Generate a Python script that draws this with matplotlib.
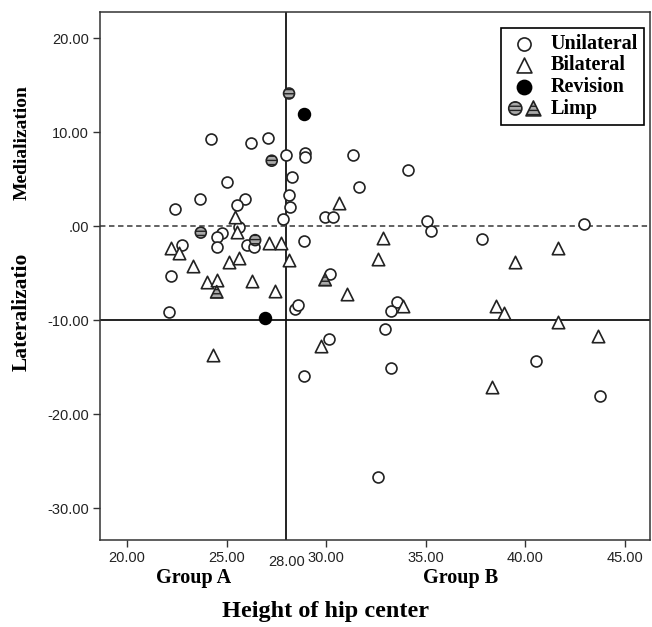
import matplotlib
matplotlib.use('Agg')
import matplotlib.pyplot as plt
from matplotlib.legend_handler import HandlerTuple

# Данные: высота центра бедра (x) и медиализация/латерализация (y)
uni_x = [24.22, 26.22, 27.06, 28.0, 28.3, 25.0, 23.66, 22.4, 25.92, 25.5,
         28.13, 28.2, 27.85, 25.6, 24.75, 24.5, 24.5, 26.0, 26.35, 22.74,
         28.94, 28.94, 31.33, 34.1, 31.63, 29.94, 30.33, 35.04, 35.24, 28.9,
         37.84, 42.94, 22.2, 22.12, 28.43, 28.6, 30.2, 33.54, 33.23, 32.95,
         30.14, 33.25, 28.9, 40.54, 43.75, 32.6]
uni_y = [9.22, 8.8, 9.33, 7.6, 5.2, 4.65, 2.9, 1.84, 2.84, 2.2,
         3.3, 2.0, 0.7, -0.07, -0.7, -1.2, -2.27, -2.0, -2.2, -2.0,
         7.73, 7.3, 7.55, 6.0, 4.1, 1.0, 1.0, 0.53, -0.5, -1.6,
         -1.38, 0.2, -5.28, -9.1, -8.8, -8.4, -5.1, -8.1, -9.0, -10.96,
         -12.06, -15.1, -16.0, -14.36, -18.05, -26.7]

bil_x = [25.42, 25.5, 27.13, 27.73, 22.2, 22.62, 28.15, 25.1, 25.6, 23.33,
         24.0, 24.53, 26.26, 27.43, 24.33, 30.64, 32.83, 32.6, 31.03, 33.87,
         29.74, 41.65, 39.45, 38.52, 38.94, 41.65, 43.66, 38.34]
bil_y = [1.0, -0.6, -1.85, -1.85, -2.3, -2.9, -3.6, -3.8, -3.4, -4.26,
         -6.0, -5.7, -5.8, -6.9, -13.7, 2.5, -1.3, -3.5, -7.2, -8.5,
         -12.8, -2.3, -3.8, -8.5, -9.3, -10.2, -11.7, -17.1]

rev_x = [28.9, 26.93]
rev_y = [11.9, -9.8]

limp_c_x = [28.13, 27.26, 23.7, 26.43]
limp_c_y = [14.1, 6.95, -0.7, -1.5]
limp_t_x = [24.5, 29.94]
limp_t_y = [-7.0, -5.7]

x_ticks = [20, 25, 30, 35, 40, 45]
y_ticks = [20, 10, 0, -10, -20, -30]
y_tick_labels = ['20.00', '10.00', '.00', '-10.00', '-20.00', '-30.00']

serif = 'Liberation Serif'
sans = 'Liberation Sans'

fig = plt.figure(figsize=(6.52, 6.27), dpi=100)
ax = fig.add_axes([100/652, (627-540)/627, 550/652, 528/627])

ax.set_xlim(18.64, 46.25)
ax.set_ylim(-33.4, 22.77)

# Опорные линии
ax.axvline(28, color='#111111', lw=1.3, zorder=1)
ax.axhline(-10, color='#111111', lw=1.3, zorder=1)
ax.axhline(0, color='#555555', lw=1.3, ls=(0, (3, 2)), zorder=1)

ms_c = 62
ms_t = 80
ec = '#222222'
h_uni = ax.scatter(uni_x, uni_y, s=ms_c, marker='o', facecolor='white',
                   edgecolor=ec, linewidth=1.2, zorder=3)
h_bil = ax.scatter(bil_x, bil_y, s=ms_t, marker='^', facecolor='white',
                   edgecolor=ec, linewidth=1.2, zorder=3)
h_rev = ax.scatter(rev_x, rev_y, s=ms_c + 10, marker='o', facecolor='black',
                   edgecolor='black', linewidth=1.2, zorder=4)
h_lc = ax.scatter(limp_c_x, limp_c_y, s=ms_c, marker='o', facecolor='#aaaaaa',
                  edgecolor=ec, linewidth=1.2, hatch='----', zorder=4)
h_lt = ax.scatter(limp_t_x, limp_t_y, s=ms_t, marker='^', facecolor='#aaaaaa',
                  edgecolor=ec, linewidth=1.2, hatch='----', zorder=4)

# Оси и подписи делений
ax.set_xticks(x_ticks)
ax.set_xticklabels(['%.2f' % v for v in x_ticks], fontfamily=sans, fontsize=10.5)
ax.set_yticks(y_ticks)
ax.set_yticklabels(y_tick_labels, fontfamily=sans, fontsize=10.5)
ax.tick_params(direction='out', length=5, width=1, color='#333333',
               labelcolor='#222222', pad=3)
ax.text(28, -0.028, '28.00', transform=ax.get_xaxis_transform(),
        ha='center', va='top', fontfamily=sans, fontsize=10.5, color='#222222')
for sp in ax.spines.values():
    sp.set_color('#333333')
    sp.set_linewidth(1.1)

# Подписи осей
fig.text(22/652, 1 - 143/627, 'Medialization', rotation=90, ha='center',
         va='center', fontfamily=serif, fontweight='bold', fontsize=14)
fig.text(22/652, 1 - 312/627, 'Lateralizatio', rotation=90, ha='center',
         va='center', fontfamily=serif, fontweight='bold', fontsize=15.5)
fig.text(194/652, 1 - 578/627, 'Group A', ha='center', va='center',
         fontfamily=serif, fontweight='bold', fontsize=14.5)
fig.text(461/652, 1 - 578/627, 'Group B', ha='center', va='center',
         fontfamily=serif, fontweight='bold', fontsize=14.5)
fig.text(326/652, 1 - 612/627, 'Height of hip center', ha='center',
         va='center', fontfamily=serif, fontweight='bold', fontsize=17.5)

leg = ax.legend([h_uni, h_bil, h_rev, (h_lc, h_lt)],
                ['Unilateral', 'Bilateral', 'Revision', 'Limp'],
                handler_map={tuple: HandlerTuple(ndivide=None, pad=0.1)},
                loc='upper right', bbox_to_anchor=(0.989, 0.97),
                borderaxespad=0, fancybox=False, framealpha=1,
                edgecolor='black', handlelength=1.7, handletextpad=0.45,
                labelspacing=0.08, borderpad=0.3, scatterpoints=1,
                markerscale=1.2,
                prop=dict(family=serif, weight='bold', size=14.5))
leg.get_frame().set_linewidth(1.2)

fig.savefig('out.png', dpi=100)
